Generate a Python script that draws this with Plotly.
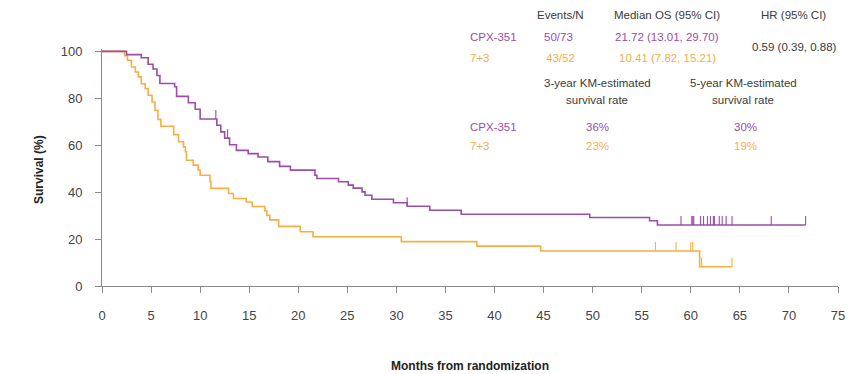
import numpy as np
import plotly.graph_objects as go

# ---- data ----
cpx_time = [0, 2.5, 4.0, 4.7, 5.2, 5.6, 5.9, 7.4, 7.6, 8.8, 9.5, 10.0, 11.7, 12.1, 12.5, 13.0, 13.7,
            14.9, 15.9, 16.9, 18.1, 19.2, 21.7, 21.9, 24.1, 25.1, 25.6, 26.5, 26.8, 27.5, 29.7, 31.1,
            33.4, 36.6, 49.7, 55.8, 56.6, 71.7]
cpx_surv = [100, 98.6, 97.3, 94.5, 92.5, 89.7, 86.3, 84.9, 80.8, 78.1, 75.3, 71.2, 68.5, 65.7, 63.0, 60.2, 57.8,
            56.4, 55.0, 53.0, 51.0, 49.4, 47.2, 45.8, 44.4, 43.0, 41.7, 40.1, 38.7, 37.0, 35.5, 34.0,
            32.3, 30.6, 29.2, 27.8, 26.0, 26.0]
cpx_censor = [11.6, 12.8, 31.1, 59.0, 60.1, 60.2, 60.3, 61.0, 61.3, 61.7, 62.0, 62.3, 62.4, 62.9,
              63.2, 63.6, 64.2, 68.2, 71.7]

std_time = [0, 2.3, 2.6, 3.0, 3.4, 3.7, 4.0, 4.4, 4.7, 5.1, 5.4, 5.7, 6.0, 7.3, 7.8, 8.3, 8.5, 8.6,
            9.3, 9.8, 10.0, 11.0, 11.1, 12.9, 13.4, 14.7, 15.3, 16.6, 16.8, 17.1, 18.0, 20.2, 21.5,
            30.5, 38.2, 44.7, 60.9, 64.2]
std_surv = [100, 98.1, 96.2, 93.3, 91.2, 89.1, 86.2, 84.1, 81.3, 78.4, 74.9, 71.0, 68.1, 64.5, 61.5, 59.3, 57.2, 53.6,
            51.5, 49.4, 47.2, 44.4, 41.6, 39.4, 37.3, 35.8, 33.9, 32.0, 30.1, 28.2, 25.4, 23.1, 21.0,
            18.9, 17.0, 14.9, 8.2, 8.2]
std_censor = [56.4, 58.5, 60.0, 60.2, 61.1, 64.2]

x_ticks = list(range(0, 80, 5))
y_ticks = [0, 20, 40, 60, 80, 100]

PURPLE = "#9C4DA6"
ORANGE = "#F8AE45"
DARK = "#3a3a3a"
FONT = "Liberation Sans, Arial, sans-serif"


def surv_at(times, surv, t):
    idx = np.searchsorted(np.array(times), np.array(t), side="right") - 1
    return list(np.array(surv)[idx])


fig = go.Figure()
for times, surv, cens, col in [(std_time, std_surv, std_censor, ORANGE),
                                (cpx_time, cpx_surv, cpx_censor, PURPLE)]:
    fig.add_trace(go.Scatter(x=times, y=surv, mode="lines", line=dict(color=col, width=1.6, shape="hv"),
                             showlegend=False, hoverinfo="skip"))
    fig.add_trace(go.Scatter(x=cens, y=surv_at(times, surv, cens), mode="markers",
                             marker=dict(size=1, color=col, opacity=0),
                             error_y=dict(type="constant", symmetric=False, value=3.8, valueminus=0,
                                          width=0, thickness=1.1, color=col),
                             showlegend=False, hoverinfo="skip"))

# plot area geometry in pixels
L, R, T, B = 102, 838, 49, 286


def px(x):
    return (x - L) / (R - L)


def py(y):
    return (B - y) / (B - T)


def txt(s, x, y, color=DARK, size=11.5, xanchor="center", bold=False):
    if bold:
        s = "<b>" + s + "</b>"
    fig.add_annotation(text=s, x=px(x), y=py(y), xref="paper", yref="paper", showarrow=False,
                       xanchor=xanchor, yanchor="middle", font=dict(family=FONT, size=size, color=color))


# table
txt("Events/N", 560, 15)
txt("Median OS (95% CI)", 667, 15)
txt("HR (95% CI)", 793, 15)
txt("CPX-351", 468, 37, PURPLE, xanchor="left")
txt("50/73", 558, 37, PURPLE)
txt("21.72 (13.01, 29.70)", 667, 37, PURPLE)
txt("0.59 (0.39, 0.88)", 794, 47)
txt("7+3", 468, 58, ORANGE, xanchor="left")
txt("43/52", 560, 58, ORANGE)
txt("10.41 (7.82, 15.21)", 667, 58, ORANGE)
txt("3-year KM-estimated", 597, 83)
txt("survival rate", 597, 100)
txt("5-year KM-estimated", 743, 83)
txt("survival rate", 743, 100)
txt("CPX-351", 468, 127, PURPLE, xanchor="left")
txt("36%", 597, 127, PURPLE)
txt("30%", 745, 127, PURPLE)
txt("7+3", 468, 146, ORANGE, xanchor="left")
txt("23%", 597, 146, ORANGE)
txt("19%", 745, 146, ORANGE)

# axis titles
txt("Months from randomization", 470, 366, "#222", size=12, bold=True)
fig.add_annotation(text="<b>Survival (%)</b>", x=px(30), y=py(170), xref="paper", yref="paper",
                   showarrow=False, textangle=-90, font=dict(family=FONT, size=12, color="#222"))

axis_common = dict(showgrid=False, zeroline=False, showline=True, linecolor="#8a8a8a", linewidth=1,
                   ticks="outside", tickcolor="#8a8a8a", ticklen=6, tickwidth=1,
                   tickfont=dict(family=FONT, size=13, color="#444"))
fig.update_xaxes(range=[0, 75], tickvals=x_ticks, ticklabelstandoff=11, **axis_common)
fig.update_yaxes(range=[0, 101], tickvals=y_ticks, ticklabelstandoff=10, **axis_common)

fig.update_layout(width=851, height=374,
                  margin=dict(l=L, r=851 - R, t=T, b=374 - B, autoexpand=False),
                  plot_bgcolor="white", paper_bgcolor="white")

fig.write_html("out.html", config={"displayModeBar": False},
               post_script="document.body.style.margin='0px';document.body.style.overflow='hidden';")
